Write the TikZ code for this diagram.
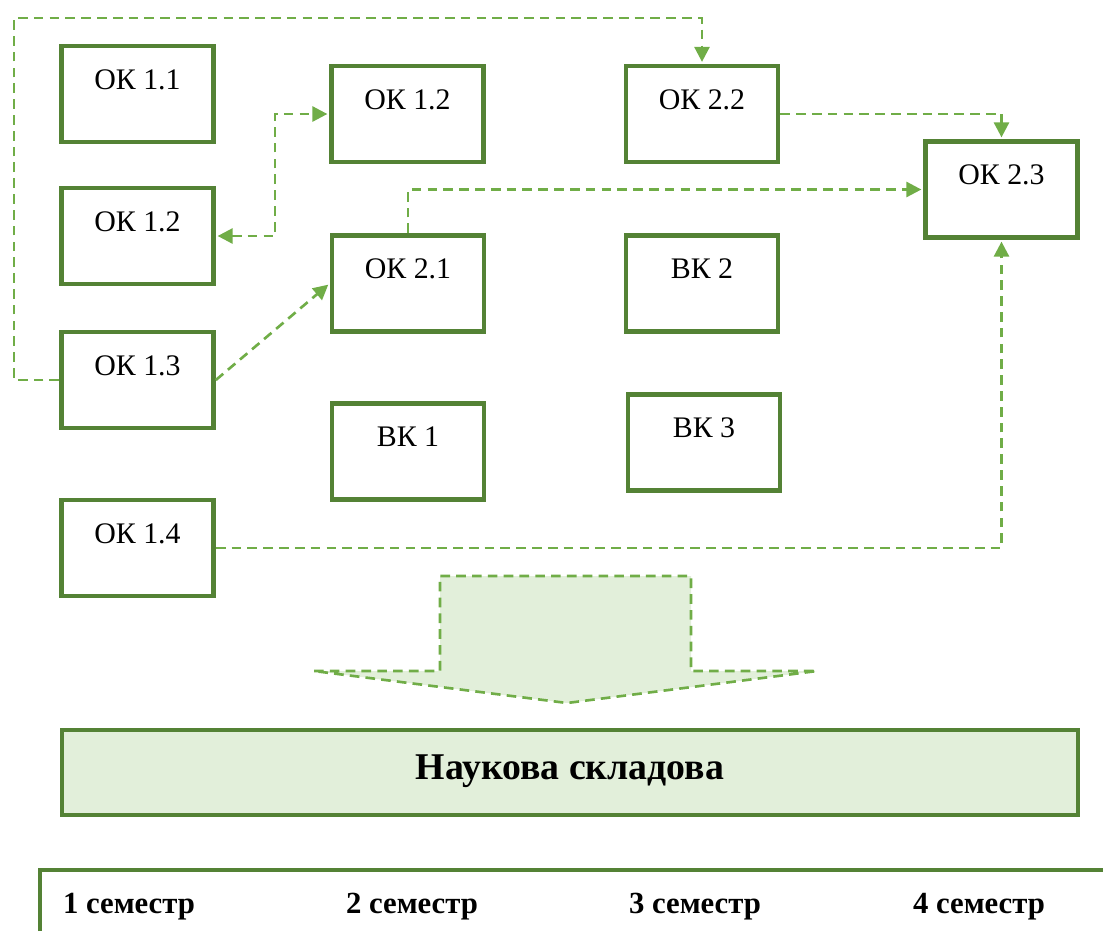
\documentclass[tikz,border=0pt]{standalone}
\usepackage{fontspec}
\setmainfont{Liberation Serif}
\usepackage{xcolor}
\usepackage{tikz}
\usetikzlibrary{arrows.meta, positioning}
\definecolor{boxgreen}{HTML}{548235}
\definecolor{linkgreen}{HTML}{70AD47}
\definecolor{fillgreen}{HTML}{E2EFDA}
\tikzset{
  okbox/.style={draw=boxgreen, line width=2.7pt, minimum width=3.04cm, inner sep=0pt,
    text height=0.86cm, text depth=1.06cm, font=\fontsize{17}{20}\selectfont},
  link/.style={draw=linkgreen, line width=1.5pt, dash pattern=on 5.5pt off 3.5pt,
    -{Triangle[length=8.5pt,width=8.5pt]}, shorten >=1pt},
  semlabel/.style={font=\fontsize{17.5}{20}\selectfont\bfseries, inner sep=0pt, anchor=base}
}

\begin{document}
\begin{tikzpicture}[x=0.02cm, y=-0.02cm]
% \draw[help lines, dashed, red] (0,0) grid[step=50] (1103,931);
\useasboundingbox (0,0) rectangle (1103,931);
\node[okbox] (ok11) at (137.5,94) {ОК 1.1};
\node[okbox] (ok12a) at (137.5,236) {ОК 1.2};
\node[okbox] (ok13) at (137.5,380) {ОК 1.3};
\node[okbox] (ok14) at (137.5,548) {ОК 1.4};
\node[okbox] (ok12b) at (407.5,114) {ОК 1.2};
\node[okbox] (ok21) at (408,283.5) {ОК 2.1};
\node[okbox] (bk1) at (408,451.5) {ВК 1};
\node[okbox] (ok22) at (702,114) {ОК 2.2};
\node[okbox] (bk2) at (702,283.5) {ВК 2};
\node[okbox] (bk3) at (704,442.5) {ВК 3};
\node[okbox] (ok23) at (1001.5,189.5) {ОК 2.3};
\draw[link] (ok13.west) -| (14,18) -| (ok22.north);
\draw[link, {Triangle[length=8.5pt,width=8.5pt]}-{Triangle[length=8.5pt,width=8.5pt]}, shorten <=1pt] (ok12a.east) -- ++(59,0) |- (ok12b.west);
\draw[link] (ok13.east) -- (ok21.west);
\draw[link] (ok21.north) |- (ok23.west);
\draw[link] (ok22.east) -| (ok23.north);
\draw[link] (ok14.east) -| (ok23.south);
% big arrow
\draw[linkgreen, line width=1.5pt, dash pattern=on 5.5pt off 3.5pt, fill=fillgreen] (314,671) -- (440,671) -- (440,576) -- (691,576) -- (691,671) -- (817,671) -- (567,703) -- cycle;
\node[draw=boxgreen, line width=2.7pt, fill=fillgreen, minimum width=20.32cm, minimum height=1.7cm, inner sep=0pt,
  text height=0.6cm, text depth=0.34cm, font=\fontsize{21.5}{24}\selectfont\bfseries] (nauka) at (570,772.5) {Наукова складова};
% semesters
\draw[boxgreen, line width=2.7pt] (40,931) -- (40,870) -- (1103,870);
\foreach \i/\x in {1/129,2/412,3/695,4/979}
  \node[semlabel] (sem\i) at (\x,913) {\i\ семестр};
\end{tikzpicture}
\end{document}
